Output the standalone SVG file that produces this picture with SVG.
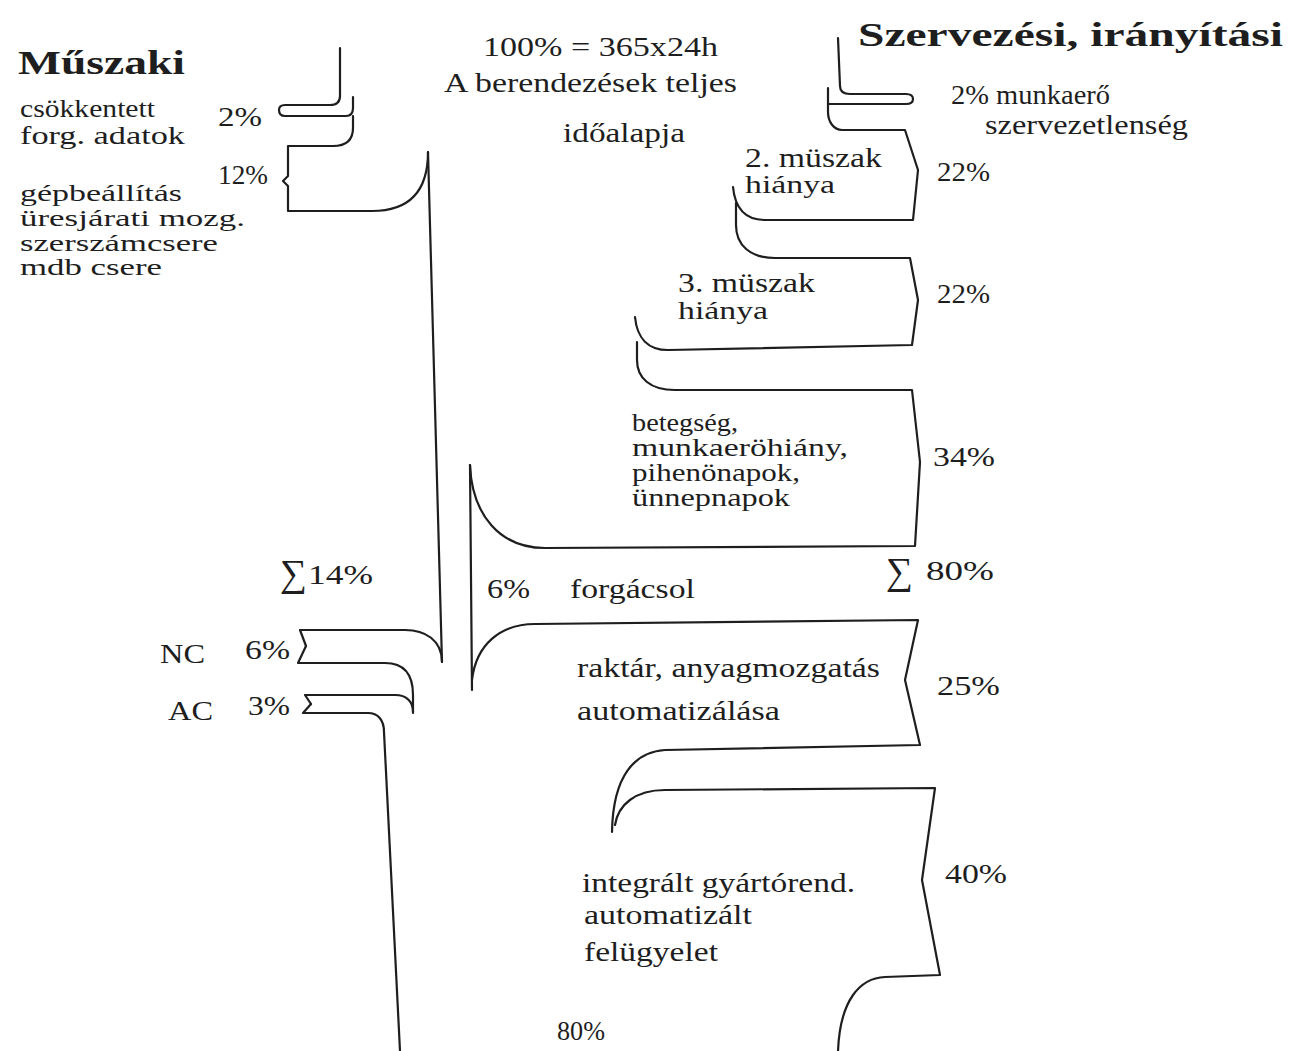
<svg xmlns="http://www.w3.org/2000/svg" width="1294" height="1051" viewBox="0 0 1294 1051">
<style>
.l{fill:none;stroke:#1e1e1e;stroke-width:2.2;stroke-linecap:round;stroke-linejoin:round}
.t{font-family:"Liberation Serif","Times New Roman",serif;font-size:27px;fill:#1e1e1e}
.s{font-family:"Liberation Serif","Times New Roman",serif;font-size:25px;fill:#1e1e1e}
.x{font-family:"Liberation Serif","Times New Roman",serif;font-size:23px;fill:#1e1e1e}
.g{font-family:"Liberation Serif","DejaVu Serif",serif;font-size:38px;fill:#1e1e1e}
.h{font-family:"Liberation Serif","Times New Roman",serif;font-size:34px;font-weight:bold;fill:#1e1e1e}
</style>
<rect width="1294" height="1051" fill="#ffffff"/>
<g id="connectors">
<path class="l" d="M340,48 L340,96 Q340,105 330,105 L285,105 Q279,105 279,110 Q279,116 285,116 L346,116 Q353,116 353,108 L353,97"/>
<path class="l" d="M353,116 L353,128 Q353,146 333,146 L288,146 L288,176 L283,181 L288,186 L288,211 L372,211 C410,211 428,190 428,152"/>
<path class="l" d="M428,152 L442,662"/>
<path class="l" d="M306,646 L300,630 L405,630 C425,630 442,640 442,662"/>
<path class="l" d="M306,646 L298,663 L385,663 C405,663 413,675 413,695 L413,713"/>
<path class="l" d="M311,704 L305,695 L395,695 C407,695 413,702 413,712"/>
<path class="l" d="M311,704 L303,713 L368,713 C378,713 384,720 384,732 L400,1051"/>
<path class="l" d="M470,465 L472,690"/>
<path class="l" d="M470,465 C472,515 500,548 545,548 L915,546 L920,462 L912,390 L675,390 C650,390 637,378 637,360 L637,342"/>
<path class="l" d="M635,317 C637,338 648,350 668,350 L912,345 L918,300 L910,258 L775,258 C750,258 736,245 736,225 L736,203"/>
<path class="l" d="M733,187 C735,208 745,220 765,220 L913,220 L918,170 L905,130 L842,130 C834,130 828,122 828,112 L828,88"/>
<path class="l" d="M838,38 L840,86 C840,92 844,94 850,94 L906,94 Q913,94 913,99 Q913,104 906,104 L828,104"/>
<path class="l" d="M472,680 C476,645 500,624 535,624 L918,620 L905,680 L920,745 L665,750 C635,752 613,775 612,832"/>
<path class="l" d="M615,825 C618,805 635,790 665,790 L935,788 L922,880 L940,975 L885,977 C860,978 840,1000 838,1051"/>
</g>
<g id="n-muszaki"><text class="h" x="18" y="74" textLength="167" lengthAdjust="spacingAndGlyphs">Műszaki</text></g>
<g id="n-csokkentett">
<text class="s" x="20" y="117" textLength="135" lengthAdjust="spacingAndGlyphs">csökkentett</text>
<text class="s" x="20" y="144" textLength="165" lengthAdjust="spacingAndGlyphs">forg. adatok</text>
<text class="t" x="218" y="126" textLength="44" lengthAdjust="spacingAndGlyphs">2%</text>
</g>
<g id="n-gepbeallitas">
<text class="t" x="218" y="184" textLength="50" lengthAdjust="spacingAndGlyphs">12%</text>
<text class="x" x="20" y="201" textLength="162" lengthAdjust="spacingAndGlyphs">gépbeállítás</text>
<text class="x" x="20" y="226" textLength="225" lengthAdjust="spacingAndGlyphs">üresjárati mozg.</text>
<text class="x" x="20" y="251" textLength="198" lengthAdjust="spacingAndGlyphs">szerszámcsere</text>
<text class="x" x="20" y="275" textLength="142" lengthAdjust="spacingAndGlyphs">mdb csere</text>
</g>
<g id="n-idoalap">
<text class="t" x="483" y="56" textLength="235" lengthAdjust="spacingAndGlyphs">100% = 365x24h</text>
<text class="t" x="444" y="92" textLength="293" lengthAdjust="spacingAndGlyphs">A berendezések teljes</text>
<text class="t" x="563" y="142" textLength="122" lengthAdjust="spacingAndGlyphs">időalapja</text>
</g>
<g id="n-szervezesi"><text class="h" x="858" y="46" textLength="425" lengthAdjust="spacingAndGlyphs">Szervezési, irányítási</text></g>
<g id="n-munkaero">
<text class="t" x="951" y="104" textLength="159" lengthAdjust="spacingAndGlyphs">2% munkaerő</text>
<text class="t" x="985" y="134" textLength="203" lengthAdjust="spacingAndGlyphs">szervezetlenség</text>
</g>
<g id="n-muszak2">
<text class="t" x="745" y="167" textLength="137" lengthAdjust="spacingAndGlyphs">2. müszak</text>
<text class="s" x="745" y="193" textLength="90" lengthAdjust="spacingAndGlyphs">hiánya</text>
<text class="t" x="937" y="181" textLength="53" lengthAdjust="spacingAndGlyphs">22%</text>
</g>
<g id="n-muszak3">
<text class="t" x="678" y="292" textLength="137" lengthAdjust="spacingAndGlyphs">3. müszak</text>
<text class="s" x="678" y="319" textLength="90" lengthAdjust="spacingAndGlyphs">hiánya</text>
<text class="t" x="937" y="303" textLength="53" lengthAdjust="spacingAndGlyphs">22%</text>
</g>
<g id="n-betegseg">
<text class="s" x="632" y="431" textLength="106" lengthAdjust="spacingAndGlyphs">betegség,</text>
<text class="s" x="632" y="456" textLength="216" lengthAdjust="spacingAndGlyphs">munkaeröhiány,</text>
<text class="s" x="632" y="481" textLength="168" lengthAdjust="spacingAndGlyphs">pihenönapok,</text>
<text class="s" x="632" y="506" textLength="158" lengthAdjust="spacingAndGlyphs">ünnepnapok</text>
<text class="t" x="933" y="466" textLength="62" lengthAdjust="spacingAndGlyphs">34%</text>
</g>
<g id="n-sum80">
<text class="g" x="886" y="584">∑</text>
<text class="t" x="926" y="580" textLength="68" lengthAdjust="spacingAndGlyphs">80%</text>
</g>
<g id="n-sum14">
<text class="g" x="280" y="586" font-size="32">∑</text>
<text class="t" x="308" y="584" textLength="65" lengthAdjust="spacingAndGlyphs">14%</text>
</g>
<g id="n-forgacsol">
<text class="t" x="487" y="598" textLength="43" lengthAdjust="spacingAndGlyphs">6%</text>
<text class="t" x="570" y="598" textLength="125" lengthAdjust="spacingAndGlyphs">forgácsol</text>
</g>
<g id="n-nc">
<text class="t" x="160" y="663" textLength="45" lengthAdjust="spacingAndGlyphs">NC</text>
<text class="t" x="245" y="659" textLength="45" lengthAdjust="spacingAndGlyphs">6%</text>
</g>
<g id="n-ac">
<text class="t" x="168" y="720" textLength="45" lengthAdjust="spacingAndGlyphs">AC</text>
<text class="t" x="248" y="715" textLength="42" lengthAdjust="spacingAndGlyphs">3%</text>
</g>
<g id="n-raktar">
<text class="t" x="577" y="677" textLength="303" lengthAdjust="spacingAndGlyphs">raktár, anyagmozgatás</text>
<text class="t" x="577" y="720" textLength="203" lengthAdjust="spacingAndGlyphs">automatizálása</text>
<text class="t" x="937" y="695" textLength="63" lengthAdjust="spacingAndGlyphs">25%</text>
</g>
<g id="n-integralt">
<text class="t" x="582" y="892" textLength="273" lengthAdjust="spacingAndGlyphs">integrált gyártórend.</text>
<text class="t" x="584" y="924" textLength="168" lengthAdjust="spacingAndGlyphs">automatizált</text>
<text class="t" x="584" y="961" textLength="134" lengthAdjust="spacingAndGlyphs">felügyelet</text>
<text class="t" x="945" y="883" textLength="62" lengthAdjust="spacingAndGlyphs">40%</text>
</g>
<g id="n-80"><text class="t" x="557" y="1040" textLength="48" lengthAdjust="spacingAndGlyphs">80%</text></g>
</svg>
